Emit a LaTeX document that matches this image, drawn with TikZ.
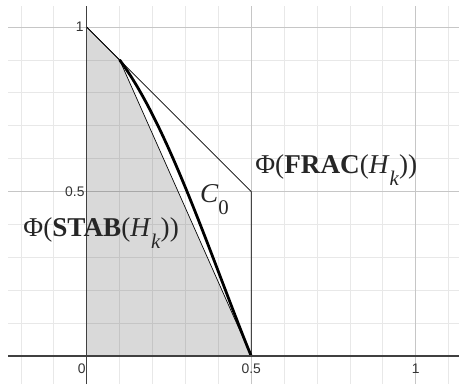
\documentclass[tikz,border=0pt]{standalone}
\usepackage{fontspec}
\setmainfont{Liberation Serif}
\newfontfamily\axisfont{Liberation Sans}

\newcommand{\lowsub}[2]{\raisebox{-0.45em}{\fontsize{#1}{#1}\selectfont #2}}

\begin{document}
\begin{tikzpicture}[x=10cm, y=10cm,
    minorgrid/.style={gray!18, line width=0.6pt},
    majorgrid/.style={gray!45, line width=0.6pt},
    axisline/.style={black!75, line width=1.3pt},
    edge/.style={black, line width=0.6pt},
    tick/.style={font=\axisfont\fontsize{12}{12}\selectfont, text=black!80, inner sep=0pt},
    setlabel/.style={font=\fontsize{23.5}{26}\selectfont, text=black!85,
                     inner sep=0pt, anchor=base west}]
  \useasboundingbox (-0.2635,-0.0851) rectangle (1.1316,1.0821);

  % grid
  \foreach \i in {-2,...,11}
    \draw[minorgrid] (\i/10,-0.0851) -- (\i/10,1.0638);
  \foreach \j in {0,...,10}
    \draw[minorgrid] (-0.239,\j/10) -- (1.1316,\j/10);
  \foreach \v in {0.5,1} {
    \draw[majorgrid] (\v,-0.0851) -- (\v,1.0638);
    \draw[majorgrid] (-0.239,\v) -- (1.1316,\v);
  }

  \coordinate (origin) at (0,0);
  \coordinate (top) at (0,1);
  \coordinate (apex) at (0.1,0.9);
  \coordinate (corner) at (0.5,0.5);
  \coordinate (base) at (0.5,0);

  % STAB region
  \fill[black, fill opacity=0.15] (origin) -- (top) -- (apex) -- (base) -- cycle;
  \draw[edge] (top) -- (apex) -- (base);
  % FRAC region
  \draw[edge] (top) -- (corner) -- (base);
  % curve C_0
  \draw[black, line width=2.4pt] (apex) .. controls (0.25,0.70) and (0.385,0.28) .. (base);

  % axes
  \draw[axisline] (-0.239,0) -- (1.1316,0);
  \draw[axisline] (0,-0.0851) -- (0,1.0638);

  \node[tick, anchor=east] (y1) at (-0.009,1) {1};
  \node[tick, anchor=east] (yhalf) at (-0.006,0.5) {0.5};
  \node[tick] (x0) at (-0.015,-0.0395) {0};
  \node[tick] (xhalf) at (0.5,-0.0395) {0.5};
  \node[tick] (x1) at (1,-0.0395) {1};

  \node[setlabel] (frac) at (0.512,0.556)
    {Φ(\textbf{FRAC}(\textit{H}\lowsub{18}{\textit{k}}))};
  \node[setlabel] (stab) at (-0.193,0.363)
    {Φ(\textbf{STAB}(\textit{H}\lowsub{18}{\textit{k}}))};
  \node[setlabel] (czero) at (0.344,0.468)
    {\textit{C}\lowsub{18}{0}};
\end{tikzpicture}
\end{document}
